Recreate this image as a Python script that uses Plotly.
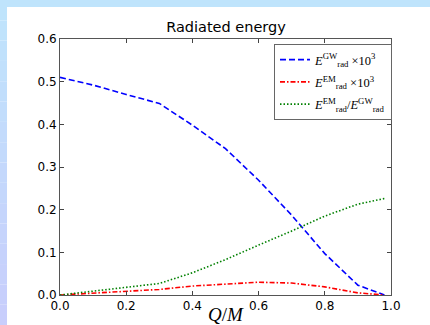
import plotly.graph_objects as go

q_m = [0.0, 0.1, 0.2, 0.3, 0.4, 0.5, 0.6, 0.7, 0.8, 0.9, 0.98]
e_gw = [0.510, 0.492, 0.470, 0.449, 0.398, 0.343, 0.269, 0.187, 0.097, 0.023, 0.0]
e_em = [0.0, 0.004, 0.008, 0.013, 0.021, 0.026, 0.030, 0.028, 0.019, 0.005, 0.0]
ratio = [0.0, 0.009, 0.019, 0.027, 0.052, 0.083, 0.117, 0.150, 0.185, 0.213, 0.226]
x_ticks = [0.0, 0.2, 0.4, 0.6, 0.8, 1.0]
y_ticks = [0.0, 0.1, 0.2, 0.3, 0.4, 0.5, 0.6]

W, H = 430, 325
L, R, T, B = 60, 39, 39, 30
PW, PH = W - L - R, H - T - B

def px(x):
    return (x - L) / PW

def py(y):
    return (H - B - y) / PH

fig = go.Figure()
fig.add_trace(go.Scatter(x=q_m, y=e_gw, mode="lines", legendgroup="a",
                         line=dict(color="#0000ff", dash="6px,3px", width=1.6),
                         name="<i>E</i><sup>GW</sup><sub>rad</sub> ×10<sup>3</sup>"))
fig.add_trace(go.Scatter(x=q_m, y=e_em, mode="lines", legendgroup="b",
                         line=dict(color="#ff0000", dash="5px,2px,1.5px,2px", width=1.6),
                         name="<i>E</i><sup>EM</sup><sub>rad</sub> ×10<sup>3</sup>"))
fig.add_trace(go.Scatter(x=q_m, y=ratio, mode="lines", legendgroup="c",
                         line=dict(color="#008000", dash="1.5px,2px", width=1.6),
                         name="<i>E</i><sup>EM</sup><sub>rad</sub>/<i>E</i><sup>GW</sup><sub>rad</sub>"))

shapes = []
# top strip
shapes.append(dict(type="rect", xref="paper", yref="paper", x0=px(0), x1=px(W), y0=py(7), y1=py(0),
                   fillcolor="#bfe4fc", line=dict(width=0), layer="below"))
# left strip gradient
n = 16
c0 = (191, 228, 252)
c1 = (200, 206, 252)
for i in range(n):
    t = i / (n - 1)
    c = tuple(int(round(c0[k] + (c1[k] - c0[k]) * t)) for k in range(3))
    y0 = i * H / n
    y1 = (i + 1) * H / n
    shapes.append(dict(type="rect", xref="paper", yref="paper", x0=px(0), x1=px(7),
                       y0=py(y1), y1=py(y0), fillcolor="rgb(%d,%d,%d)" % c,
                       line=dict(width=0), layer="below"))

axis_common = dict(ticks="inside", ticklen=4, tickwidth=1, tickcolor="#444",
                   showline=True, linecolor="#555", linewidth=1, mirror="allticks",
                   showgrid=False, zeroline=False,
                   tickfont=dict(family="DejaVu Sans", size=12, color="black"))

fig.update_layout(
    width=W, height=H,
    margin=dict(l=L, r=R, t=T, b=B),
    paper_bgcolor="white", plot_bgcolor="white",
    shapes=shapes,
    title=dict(text="Radiated energy", x=px(226), xref="paper", xanchor="center",
               y=1 - 27 / H, yanchor="middle",
               font=dict(family="DejaVu Sans", size=14.5, color="black")),
    xaxis=dict(range=[0, 1], tickvals=x_ticks, ticktext=["%.1f" % v for v in x_ticks], **axis_common),
    yaxis=dict(range=[0, 0.6], tickvals=y_ticks, ticktext=["%.1f" % v for v in y_ticks], **axis_common),
    legend=dict(x=px(274), y=py(44), xanchor="left", yanchor="top",
                bgcolor="white", bordercolor="#666", borderwidth=1,
                font=dict(family="Liberation Serif", size=12.5, color="black"),
                itemwidth=30, tracegroupgap=3),
    showlegend=True,
)
fig.add_annotation(text="<i>Q</i>/<i>M</i>", xref="paper", yref="paper",
                   x=px(226), y=py(314), xanchor="center", yanchor="middle",
                   showarrow=False, font=dict(family="Liberation Serif", size=19, color="black"))

fig.write_html("out.html")
